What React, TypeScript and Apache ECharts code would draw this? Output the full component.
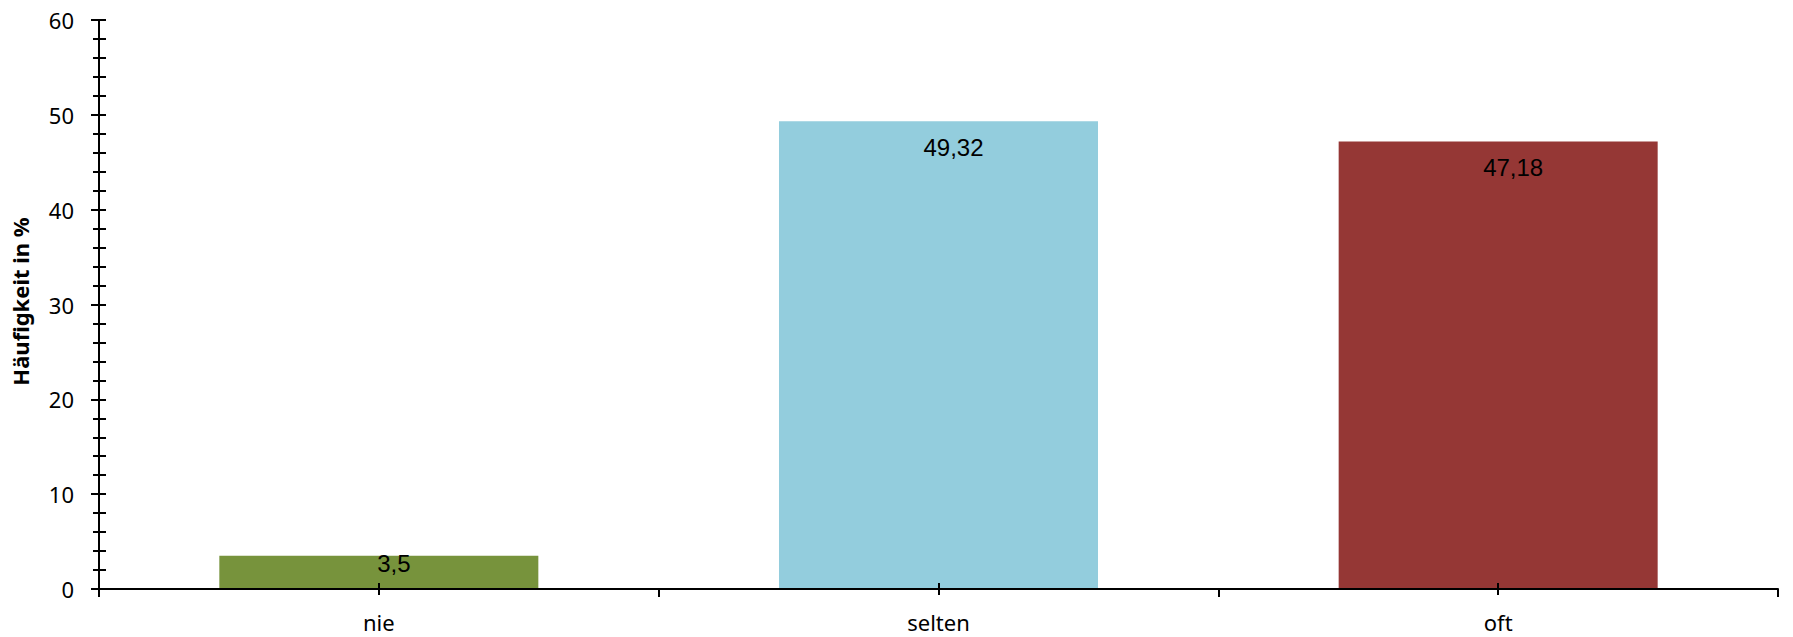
import React, { useEffect, useRef } from "react";
import * as echarts from "echarts";

const categories = ["nie", "selten", "oft"];
const values = [3.5, 49.32, 47.18];
const barColors = ["#77933C", "#93CDDD", "#953735"];
const valueLabels = ["3,5", "49,32", "47,18"];
const yTicks = { min: 0, max: 60, interval: 10 };
const yTitle = "Häufigkeit in %";

export default function App() {
  const ref = useRef<HTMLDivElement>(null);
  useEffect(() => {
    if (!ref.current) return;
    const chart = echarts.init(ref.current, undefined, { renderer: "svg" });
    const axisFont = { fontFamily: "Noto Sans", fontSize: 22, color: "#000" };
    const baseY = {
      type: "value" as const,
      min: yTicks.min,
      max: yTicks.max,
      interval: yTicks.interval,
      position: "left" as const,
      offset: 0,
      splitLine: { show: false },
    };
    const baseX = {
      type: "category" as const,
      data: categories,
      position: "bottom" as const,
      offset: 0,
      z: 5,
    };
    chart.setOption({
      animation: false,
      backgroundColor: "#fff",
      grid: { left: 99, top: 20, right: 15, bottom: 48, containLabel: false },
      xAxis: [
        {
          ...baseX,
          axisLine: { show: true, lineStyle: { color: "#000", width: 2 } },
          axisTick: { show: true, length: 8, lineStyle: { color: "#000", width: 2 } },
          axisLabel: { show: true, margin: 22, ...axisFont },
        },
        {
          ...baseX,
          axisLine: { show: false },
          axisTick: { show: true, alignWithLabel: true, length: 6, lineStyle: { color: "#000", width: 2 } },
          axisLabel: { show: false },
        },
        {
          ...baseX,
          axisLine: { show: false },
          axisTick: { show: true, inside: true, alignWithLabel: true, length: 6, lineStyle: { color: "#000", width: 2 } },
          axisLabel: { show: false },
        },
      ],
      yAxis: [
        {
          ...baseY,
          name: yTitle,
          nameLocation: "middle",
          nameGap: 68,
          nameRotate: 90,
          nameTextStyle: {
            fontFamily: "Noto Sans",
            fontSize: 22,
            fontWeight: "bold",
            color: "#000",
            padding: [0, 0, 0, 6],
          },
          axisLine: { show: true, lineStyle: { color: "#000", width: 2 } },
          axisTick: { show: true, length: 8, lineStyle: { color: "#000", width: 2 } },
          minorTick: { show: true, splitNumber: 5, length: 6, lineStyle: { color: "#000", width: 2 } },
          axisLabel: { show: true, margin: 25, ...axisFont },
        },
        {
          ...baseY,
          axisLine: { show: false },
          axisTick: { show: true, inside: true, length: 7, lineStyle: { color: "#000", width: 2 } },
          minorTick: { show: true, splitNumber: 5, length: 7, lineStyle: { color: "#000", width: 2 } },
          axisLabel: { show: false },
        },
      ],
      series: [
        {
          type: "bar",
          xAxisIndex: 0,
          yAxisIndex: 0,
          barWidth: "57%",
          data: values.map((v, i) => ({
            value: v,
            itemStyle: { color: barColors[i] },
            label: {
              formatter: valueLabels[i],
              offset: v < 10 ? [15, -9] : [15, 9],
            },
          })),
          label: {
            show: true,
            position: "insideTop",
            fontFamily: "Liberation Sans",
            fontSize: 24,
            color: "#000",
          },
        },
      ],
    });
    return () => chart.dispose();
  }, []);
  return (
    <div
      ref={ref}
      style={{ position: "fixed", left: 0, top: 0, width: 1793, height: 637 }}
    />
  );
}
